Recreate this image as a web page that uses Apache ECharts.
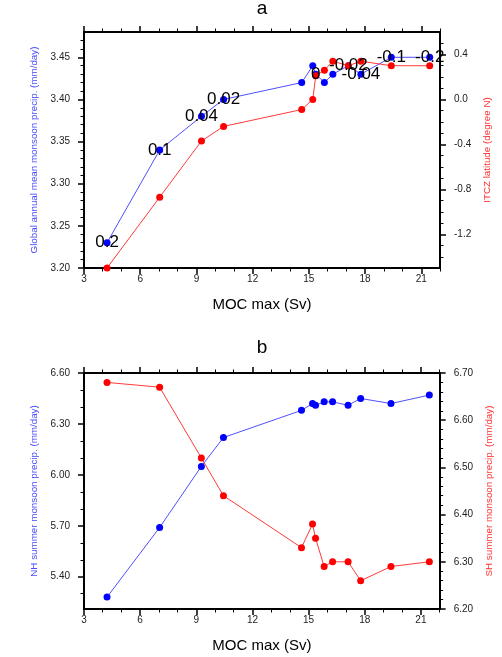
<!DOCTYPE html>
<html>
<head>
<meta charset="utf-8">
<script src="https://cdn.jsdelivr.net/npm/echarts@6/dist/echarts.min.js"></script>
<style>
html,body{margin:0;padding:0;background:#fff;}
#chart{width:502px;height:657px;}
</style>
</head>
<body>
<div id="chart"></div>
<script>
// ---- data ----
var mocMax      = [4.23, 7.04, 9.27, 10.45, 14.62, 15.21, 15.37, 15.83, 16.28, 17.11, 17.78, 19.40, 21.45];
var globalMonsoon = [3.23, 3.34, 3.38, 3.40, 3.42, 3.44, 3.43, 3.42, 3.43, 3.44, 3.43, 3.45, 3.45];
var itczLat     = [-1.50, -0.87, -0.37, -0.24, -0.09, 0.00, 0.21, 0.26, 0.34, 0.30, 0.34, 0.30, 0.30];
var pointLabels = ['0.2', '0.1', '0.04', '0.02', '', '', '0', '', '', '-0.02', '-0.04', '-0.1', '-0.2'];
var nhMonsoon   = [5.28, 5.69, 6.05, 6.22, 6.38, 6.42, 6.41, 6.43, 6.43, 6.41, 6.45, 6.42, 6.47];
var shMonsoon   = [6.68, 6.67, 6.52, 6.44, 6.33, 6.38, 6.35, 6.29, 6.30, 6.30, 6.26, 6.29, 6.30];

// ---- ticks ----
var xMajor = [3, 6, 9, 12, 15, 18, 21];
var xMinor = [4, 5, 7, 8, 10, 11, 13, 14, 16, 17, 19, 20, 22];
var aLeftMajor = [3.20, 3.25, 3.30, 3.35, 3.40, 3.45];
var aLeftMinor = [3.21, 3.22, 3.23, 3.24, 3.26, 3.27, 3.28, 3.29, 3.31, 3.32, 3.33, 3.34, 3.36, 3.37, 3.38, 3.39, 3.41, 3.42, 3.43, 3.44, 3.46, 3.47];
var aRightMajor = [-1.2, -0.8, -0.4, 0.0, 0.4];
var aRightMinor = [-1.4, -1.3, -1.1, -1.0, -0.9, -0.7, -0.6, -0.5, -0.3, -0.2, -0.1, 0.1, 0.2, 0.3, 0.5];
var bLeftMajor = [5.40, 5.70, 6.00, 6.30, 6.60];
var bLeftMinor = [5.30, 5.50, 5.60, 5.80, 5.90, 6.10, 6.20, 6.40, 6.50];
var bRightMajor = [6.20, 6.30, 6.40, 6.50, 6.60, 6.70];
var bRightMinor = [6.22, 6.24, 6.26, 6.28, 6.32, 6.34, 6.36, 6.38, 6.42, 6.44, 6.46, 6.48, 6.52, 6.54, 6.56, 6.58, 6.62, 6.64, 6.66, 6.68];

var FONT = 'Liberation Sans, Arial, Helvetica, sans-serif';
var BLUE = '#0000ff', BLUE_LINE = '#5050ff';
var RED = '#ff0000', RED_LINE = '#ff3a3a';

function pairs(xs, ys) { return xs.map(function (x, i) { return [x, ys[i]]; }); }

function xAxes(grid) {
  var base = { gridIndex: grid, type: 'value', min: 3, max: 22, splitLine: { show: false } };
  return [
    Object.assign({}, base, {
      position: 'bottom',
      axisLine: { show: true, onZero: false, lineStyle: { color: '#000', width: 2 } },
      axisTick: { show: true, inside: false, length: 6, customValues: xMajor, lineStyle: { color: '#000', width: 1.5 } },
      axisLabel: { show: true, customValues: xMajor, margin: 6, fontSize: 10, color: '#222', fontFamily: FONT },
      name: 'MOC max (Sv)', nameLocation: 'middle', nameGap: 29,
      nameTextStyle: { fontSize: 15, color: '#000', fontFamily: FONT }
    }),
    Object.assign({}, base, {
      position: 'bottom',
      axisLine: { show: false, onZero: false },
      axisTick: { show: true, inside: false, length: 3.5, customValues: xMinor, lineStyle: { color: '#000', width: 1 } },
      axisLabel: { show: false }
    }),
    Object.assign({}, base, {
      position: 'top',
      axisLine: { show: true, onZero: false, lineStyle: { color: '#000', width: 2 } },
      axisTick: { show: true, inside: false, length: 6, customValues: xMajor, lineStyle: { color: '#000', width: 1.5 } },
      axisLabel: { show: false }
    }),
    Object.assign({}, base, {
      position: 'top',
      axisLine: { show: false, onZero: false },
      axisTick: { show: true, inside: false, length: 3.5, customValues: xMinor, lineStyle: { color: '#000', width: 1 } },
      axisLabel: { show: false }
    })
  ];
}

function yPair(grid, pos, min, max, major, minor, digits, name, nameColor, nameGap) {
  var base = { gridIndex: grid, type: 'value', position: pos, min: min, max: max, splitLine: { show: false } };
  return [
    Object.assign({}, base, {
      axisLine: { show: true, onZero: false, lineStyle: { color: '#000', width: 2 } },
      axisTick: { show: true, inside: false, length: 6, customValues: major, lineStyle: { color: '#000', width: 1.5 } },
      axisLabel: {
        show: true, customValues: major, margin: 14, fontSize: 10, color: '#222', fontFamily: FONT,
        formatter: function (v) { return (+v).toFixed(digits); }
      },
      name: name, nameLocation: 'middle', nameGap: nameGap,
      nameTextStyle: { fontSize: 9.8, color: nameColor, fontFamily: FONT }
    }),
    Object.assign({}, base, {
      axisLine: { show: false, onZero: false },
      axisTick: { show: true, inside: false, length: 3.5, customValues: minor, lineStyle: { color: '#000', width: 1 } },
      axisLabel: { show: false }
    })
  ];
}

var xAxis = xAxes(0).concat(xAxes(1));
var yAxis = []
  .concat(yPair(0, 'left', 3.20, 3.48, aLeftMajor, aLeftMinor, 2, 'Global annual mean monsoon precip. (mm/day)', '#4a4aff', 40))
  .concat(yPair(0, 'right', -1.5, 0.6, aRightMajor, aRightMinor, 1, 'ITCZ latitude (degree N)', '#ff3030', 38))
  .concat(yPair(1, 'left', 5.21, 6.60, bLeftMajor, bLeftMinor, 2, 'NH summer monsoon precip. (mm/day)', '#4a4aff', 40))
  .concat(yPair(1, 'right', 6.20, 6.70, bRightMajor, bRightMinor, 2, 'SH summer monsoon precip. (mm/day)', '#ff3030', 38));

function lineSeries(xi, yi, data, lineColor, dotColor, z) {
  return {
    type: 'line', xAxisIndex: xi, yAxisIndex: yi, data: data,
    symbol: 'circle', symbolSize: 7, showSymbol: true, clip: false, z: z,
    lineStyle: { color: lineColor, width: 1 },
    itemStyle: { color: dotColor },
    emphasis: { disabled: true },
    animation: false
  };
}

var labelData = mocMax.map(function (x, i) {
  return {
    value: [x, globalMonsoon[i]],
    label: { show: pointLabels[i] !== '', formatter: pointLabels[i] }
  };
});

var option = {
  animation: false,
  backgroundColor: '#fff',
  textStyle: { fontFamily: FONT },
  title: [
    { text: 'a', left: 262, top: -1, padding: 0, textAlign: 'center', textStyle: { fontSize: 19, fontWeight: 'normal', color: '#000', fontFamily: FONT } },
    { text: 'b', left: 262, top: 338, padding: 0, textAlign: 'center', textStyle: { fontSize: 19, fontWeight: 'normal', color: '#000', fontFamily: FONT } }
  ],
  grid: [
    { left: 84, top: 32, width: 356, height: 236, containLabel: false },
    { left: 84, top: 373, width: 356, height: 236, containLabel: false }
  ],
  xAxis: xAxis,
  yAxis: yAxis,
  series: [
    lineSeries(0, 0, pairs(mocMax, globalMonsoon), BLUE_LINE, BLUE, 2),
    lineSeries(0, 2, pairs(mocMax, itczLat), RED_LINE, RED, 3),
    {
      type: 'scatter', xAxisIndex: 0, yAxisIndex: 0, data: labelData,
      symbolSize: 1, itemStyle: { color: 'rgba(0,0,0,0)', opacity: 1 }, z: 10, clip: false,
      label: { position: 'inside', fontSize: 17, color: '#000', opacity: 1, textBorderWidth: 0, fontFamily: FONT },
      emphasis: { disabled: true }, silent: true
    },
    lineSeries(4, 4, pairs(mocMax, nhMonsoon), BLUE_LINE, BLUE, 2),
    lineSeries(4, 6, pairs(mocMax, shMonsoon), RED_LINE, RED, 3)
  ]
};

var chart = echarts.init(document.getElementById('chart'), null, { renderer: 'canvas' });
chart.setOption(option);
</script>
</body>
</html>
